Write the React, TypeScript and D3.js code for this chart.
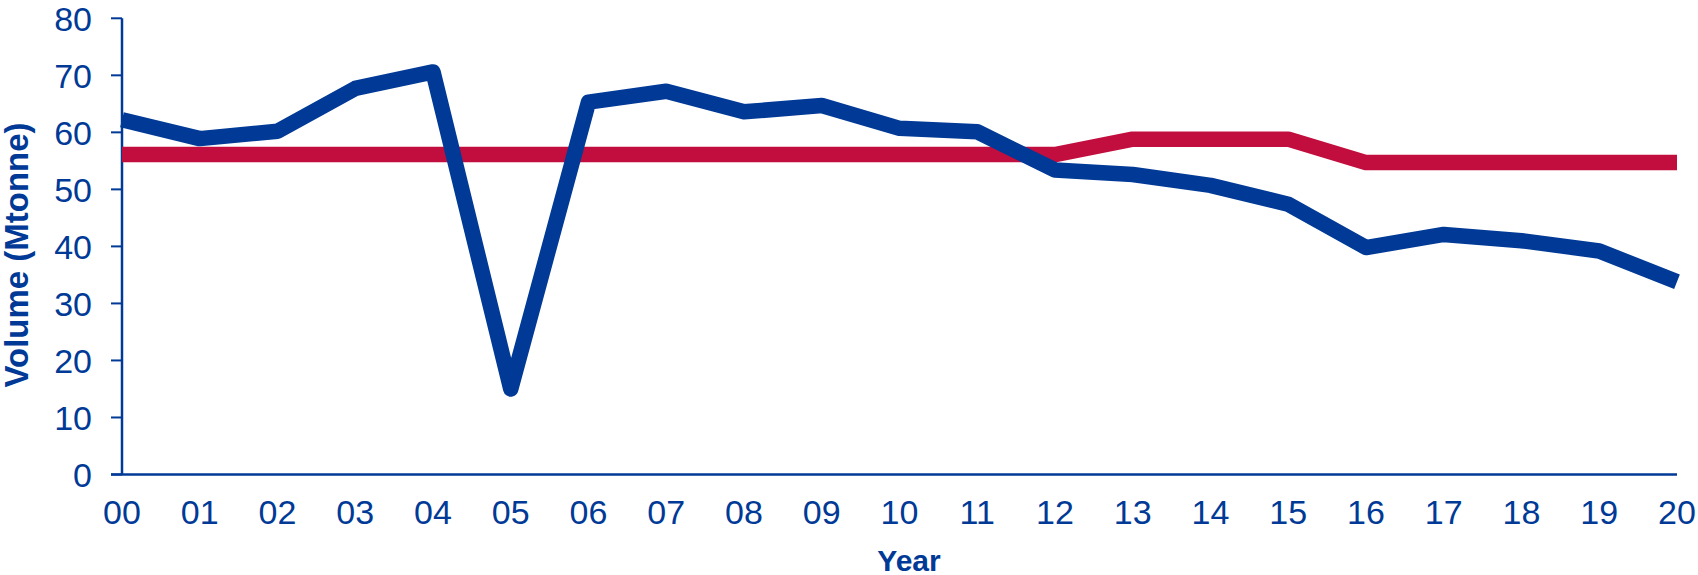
import React from "react";
import * as d3 from "d3";

const years = ["00","01","02","03","04","05","06","07","08","09","10","11","12","13","14","15","16","17","18","19","20"];
const volume = [62.2, 58.9, 60.2, 67.7, 70.6, 15.0, 65.3, 67.2, 63.6, 64.7, 60.7, 60.1, 53.4, 52.6, 50.7, 47.4, 39.8, 42.1, 41.0, 39.2, 33.8];
const capacity = [56.1, 56.1, 56.1, 56.1, 56.1, 56.1, 56.1, 56.1, 56.1, 56.1, 56.1, 56.1, 56.1, 58.8, 58.8, 58.8, 54.7, 54.7, 54.7, 54.7, 54.7];
const yTicks = [0, 10, 20, 30, 40, 50, 60, 70, 80];

const BLUE = "#003A96";
const RED = "#C20E3E";
const FONT = "'Liberation Sans', Arial, sans-serif";

export default function App() {
  const width = 1698;
  const height = 575;
  const left = 122;
  const right = 1677;
  const top = 18.3;
  const bottom = 474.5;

  const x = d3.scalePoint<string>().domain(years).range([left, right]);
  const y = d3.scaleLinear().domain([0, 80]).range([bottom, top]);

  const line = d3
    .line<number>()
    .x((_, i) => x(years[i]) as number)
    .y((d) => y(d));

  return (
    <svg
      width={width}
      height={height}
      style={{ position: "absolute", left: 0, top: 0, background: "#fff" }}
    >
      {/* axes */}
      <line x1={left} x2={left} y1={top} y2={bottom} stroke={BLUE} strokeWidth={2.5} />
      <line x1={left - 11} x2={right} y1={bottom} y2={bottom} stroke={BLUE} strokeWidth={2.5} />
      {yTicks.map((t) => (
        <g key={t}>
          <line x1={left - 11} x2={left} y1={y(t)} y2={y(t)} stroke={BLUE} strokeWidth={2} />
          <text
            x={92}
            y={y(t)}
            dy="0.36em"
            textAnchor="end"
            fontFamily={FONT}
            fontSize={34}
            fill={BLUE}
          >
            {t}
          </text>
        </g>
      ))}
      {years.map((yr) => (
        <text
          key={yr}
          x={x(yr)}
          y={523.5}
          textAnchor="middle"
          fontFamily={FONT}
          fontSize={34}
          fill={BLUE}
        >
          {yr}
        </text>
      ))}

      {/* series */}
      <path
        d={line(capacity) || ""}
        fill="none"
        stroke={RED}
        strokeWidth={15.5}
        strokeLinejoin="round"
      />
      <path
        d={line(volume) || ""}
        fill="none"
        stroke={BLUE}
        strokeWidth={15.5}
        strokeLinejoin="round"
      />

      {/* axis titles */}
      <text
        x={909}
        y={571}
        textAnchor="middle"
        fontFamily={FONT}
        fontSize={30}
        fontWeight="bold"
        fill={BLUE}
      >
        Year
      </text>
      <text
        transform="translate(28,255) rotate(-90)"
        textAnchor="middle"
        fontFamily={FONT}
        fontSize={33}
        fontWeight="bold"
        fill={BLUE}
      >
        Volume (Mtonne)
      </text>
    </svg>
  );
}
